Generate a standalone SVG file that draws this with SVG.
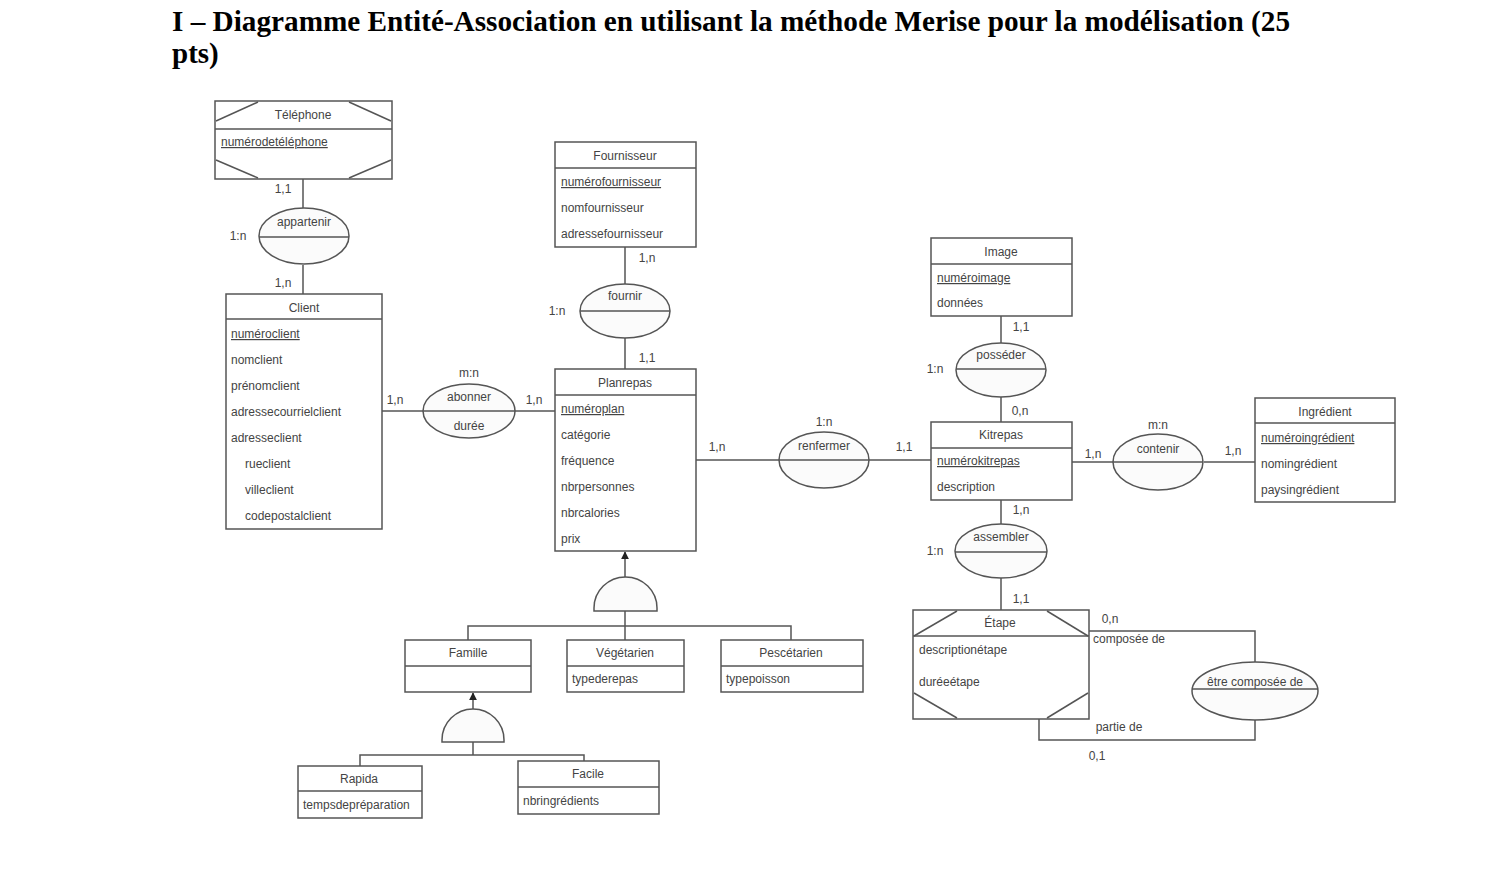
<svg xmlns="http://www.w3.org/2000/svg" width="1486" height="896" viewBox="0 0 1486 896">
<defs>
<style>
.box{fill:#fff;stroke:#555;stroke-width:1.5}
.ln{fill:none;stroke:#555;stroke-width:1.5}
.ell{fill:#fbfbfb;stroke:#555;stroke-width:1.5}
.t{font-family:"Liberation Sans",Arial,sans-serif;font-size:12px;fill:#444}
.c{text-anchor:middle}
.u{text-decoration:underline}
.title{font-family:"Liberation Serif","Times New Roman",serif;font-weight:bold;font-size:29px;fill:#000}
</style>
<marker id="tri" viewBox="0 0 10 10" refX="9" refY="5" markerWidth="8" markerHeight="8" orient="auto" markerUnits="userSpaceOnUse">
<path d="M0,0 L10,5 L0,10 z" fill="#222"/>
</marker>
</defs>
<rect width="1486" height="896" fill="#fff"/>
<text class="title" x="172" y="31" textLength="1118" lengthAdjust="spacingAndGlyphs">I – Diagramme Entité-Association en utilisant la méthode Merise pour la modélisation (25</text>
<text class="title" x="172" y="63">pts)</text>

<g id="connectors">
<line class="ln" x1="303" y1="179" x2="303" y2="208"/>
<line class="ln" x1="303" y1="265" x2="303" y2="294"/>
<line class="ln" x1="382" y1="411" x2="423" y2="411"/>
<line class="ln" x1="515" y1="411" x2="555" y2="411"/>
<line class="ln" x1="625" y1="247" x2="625" y2="284"/>
<line class="ln" x1="625" y1="338" x2="625" y2="369"/>
<line class="ln" x1="696" y1="460" x2="779" y2="460"/>
<line class="ln" x1="869" y1="460" x2="931" y2="460"/>
<line class="ln" x1="1001" y1="316" x2="1001" y2="343"/>
<line class="ln" x1="1001" y1="397" x2="1001" y2="422"/>
<line class="ln" x1="1072" y1="462" x2="1113" y2="462"/>
<line class="ln" x1="1204" y1="462" x2="1255" y2="462"/>
<line class="ln" x1="1001" y1="500" x2="1001" y2="525"/>
<line class="ln" x1="1001" y1="578" x2="1001" y2="610"/>
<polyline class="ln" points="1089,631 1255,631 1255,662"/>
<polyline class="ln" points="1255,720 1255,740 1039,740 1039,719"/>
<line class="ln" x1="625" y1="577" x2="625" y2="552" marker-end="url(#tri)"/>
<line class="ln" x1="625" y1="611" x2="625" y2="640"/>
<polyline class="ln" points="468,640 468,626 791,626 791,640"/>
<line class="ln" x1="473" y1="709" x2="473" y2="693" marker-end="url(#tri)"/>
<line class="ln" x1="473" y1="742" x2="473" y2="755"/>
<polyline class="ln" points="360,766 360,755 584,755 584,761"/>
</g>

<g id="labels" class="t">
<text class="t c" x="283" y="193">1,1</text>
<text class="t c" x="238" y="240">1:n</text>
<text class="t c" x="283" y="287">1,n</text>
<text class="t c" x="469" y="377">m:n</text>
<text class="t c" x="395" y="404">1,n</text>
<text class="t c" x="534" y="404">1,n</text>
<text class="t c" x="647" y="262">1,n</text>
<text class="t c" x="557" y="315">1:n</text>
<text class="t c" x="647" y="362">1,1</text>
<text class="t c" x="824" y="426">1:n</text>
<text class="t c" x="717" y="451">1,n</text>
<text class="t c" x="904" y="451">1,1</text>
<text class="t c" x="1021" y="331">1,1</text>
<text class="t c" x="935" y="373">1:n</text>
<text class="t c" x="1020" y="415">0,n</text>
<text class="t c" x="1158" y="429">m:n</text>
<text class="t c" x="1093" y="458">1,n</text>
<text class="t c" x="1233" y="455">1,n</text>
<text class="t c" x="1021" y="514">1,n</text>
<text class="t c" x="935" y="555">1:n</text>
<text class="t c" x="1021" y="603">1,1</text>
<text class="t c" x="1110" y="623">0,n</text>
<text class="t" x="1093" y="643">composée de</text>
<text class="t c" x="1119" y="731">partie de</text>
<text class="t c" x="1097" y="760">0,1</text>
</g>

<g id="telephone">
<rect class="box" x="215" y="101" width="177" height="78"/>
<line class="ln" x1="215" y1="129" x2="392" y2="129"/>
<polyline class="ln" points="216,121 258,102"/>
<polyline class="ln" points="349,102 391,121"/>
<polyline class="ln" points="216,160 258,178"/>
<polyline class="ln" points="349,178 391,160"/>
<text class="t c" x="303" y="119">Téléphone</text>
<text class="t u" x="221" y="146">numérodetéléphone</text>
</g>

<g id="appartenir">
<ellipse class="ell" cx="304" cy="236" rx="45" ry="28"/>
<line class="ln" x1="259" y1="237" x2="349" y2="237"/>
<text class="t c" x="304" y="226">appartenir</text>
</g>

<g id="client">
<rect class="box" x="226" y="294" width="156" height="235"/>
<line class="ln" x1="226" y1="319" x2="382" y2="319"/>
<text class="t c" x="304" y="312">Client</text>
<text class="t u" x="231" y="338">numéroclient</text>
<text class="t" x="231" y="364">nomclient</text>
<text class="t" x="231" y="390">prénomclient</text>
<text class="t" x="231" y="416">adressecourrielclient</text>
<text class="t" x="231" y="442">adresseclient</text>
<text class="t" x="245" y="468">rueclient</text>
<text class="t" x="245" y="494">villeclient</text>
<text class="t" x="245" y="520">codepostalclient</text>
</g>

<g id="abonner">
<ellipse class="ell" cx="469" cy="411" rx="46" ry="27"/>
<line class="ln" x1="423" y1="411" x2="515" y2="411"/>
<text class="t c" x="469" y="401">abonner</text>
<text class="t c" x="469" y="430">durée</text>
</g>

<g id="fournisseur">
<rect class="box" x="555" y="142" width="141" height="105"/>
<line class="ln" x1="555" y1="168" x2="696" y2="168"/>
<text class="t c" x="625" y="160">Fournisseur</text>
<text class="t u" x="561" y="186">numérofournisseur</text>
<text class="t" x="561" y="212">nomfournisseur</text>
<text class="t" x="561" y="238">adressefournisseur</text>
</g>

<g id="fournir">
<ellipse class="ell" cx="625" cy="311" rx="45" ry="27"/>
<line class="ln" x1="580" y1="311" x2="670" y2="311"/>
<text class="t c" x="625" y="300">fournir</text>
</g>

<g id="planrepas">
<rect class="box" x="555" y="369" width="141" height="182"/>
<line class="ln" x1="555" y1="395" x2="696" y2="395"/>
<text class="t c" x="625" y="387">Planrepas</text>
<text class="t u" x="561" y="413">numéroplan</text>
<text class="t" x="561" y="439">catégorie</text>
<text class="t" x="561" y="465">fréquence</text>
<text class="t" x="561" y="491">nbrpersonnes</text>
<text class="t" x="561" y="517">nbrcalories</text>
<text class="t" x="561" y="543">prix</text>
</g>

<g id="renfermer">
<ellipse class="ell" cx="824" cy="460" rx="45" ry="28"/>
<line class="ln" x1="779" y1="460" x2="869" y2="460"/>
<text class="t c" x="824" y="450">renfermer</text>
</g>

<g id="image">
<rect class="box" x="931" y="238" width="141" height="78"/>
<line class="ln" x1="931" y1="264" x2="1072" y2="264"/>
<text class="t c" x="1001" y="256">Image</text>
<text class="t u" x="937" y="282">numéroimage</text>
<text class="t" x="937" y="307">données</text>
</g>

<g id="posseder">
<ellipse class="ell" cx="1001" cy="370" rx="45" ry="27"/>
<line class="ln" x1="956" y1="369" x2="1046" y2="369"/>
<text class="t c" x="1001" y="359">posséder</text>
</g>

<g id="kitrepas">
<rect class="box" x="931" y="422" width="141" height="78"/>
<line class="ln" x1="931" y1="448" x2="1072" y2="448"/>
<text class="t c" x="1001" y="439">Kitrepas</text>
<text class="t u" x="937" y="465">numérokitrepas</text>
<text class="t" x="937" y="491">description</text>
</g>

<g id="contenir">
<ellipse class="ell" cx="1158" cy="462" rx="45" ry="28"/>
<line class="ln" x1="1113" y1="462" x2="1203" y2="462"/>
<text class="t c" x="1158" y="453">contenir</text>
</g>

<g id="ingredient">
<rect class="box" x="1255" y="398" width="140" height="104"/>
<line class="ln" x1="1255" y1="423" x2="1395" y2="423"/>
<text class="t c" x="1325" y="416">Ingrédient</text>
<text class="t u" x="1261" y="442">numéroingrédient</text>
<text class="t" x="1261" y="468">nomingrédient</text>
<text class="t" x="1261" y="494">paysingrédient</text>
</g>

<g id="assembler">
<ellipse class="ell" cx="1001" cy="551" rx="46" ry="27"/>
<line class="ln" x1="955" y1="552" x2="1047" y2="552"/>
<text class="t c" x="1001" y="541">assembler</text>
</g>

<g id="etape">
<rect class="box" x="913" y="610" width="176" height="109"/>
<line class="ln" x1="913" y1="636" x2="1089" y2="636"/>
<polyline class="ln" points="914,636 957,611"/>
<polyline class="ln" points="1047,611 1088,636"/>
<polyline class="ln" points="914,693 957,718"/>
<polyline class="ln" points="1047,718 1088,693"/>
<text class="t c" x="1000" y="627">Étape</text>
<text class="t" x="919" y="654">descriptionétape</text>
<text class="t" x="919" y="686">duréeétape</text>
</g>

<g id="etre-composee-de">
<ellipse class="ell" cx="1255" cy="691" rx="63" ry="29"/>
<line class="ln" x1="1192" y1="689" x2="1318" y2="689"/>
<text class="t c" x="1255" y="686">être composée de</text>
</g>

<g id="heritage-planrepas">
<path class="ell" d="M594,611 L594,608 A31.5,31 0 0 1 657,608 L657,611 Z"/>
</g>

<g id="famille">
<rect class="box" x="405" y="640" width="126" height="52"/>
<line class="ln" x1="405" y1="666" x2="531" y2="666"/>
<text class="t c" x="468" y="657">Famille</text>
</g>

<g id="vegetarien">
<rect class="box" x="567" y="640" width="117" height="52"/>
<line class="ln" x1="567" y1="666" x2="684" y2="666"/>
<text class="t c" x="625" y="657">Végétarien</text>
<text class="t" x="572" y="683">typederepas</text>
</g>

<g id="pescetarien">
<rect class="box" x="721" y="640" width="142" height="52"/>
<line class="ln" x1="721" y1="666" x2="863" y2="666"/>
<text class="t c" x="791" y="657">Pescétarien</text>
<text class="t" x="726" y="683">typepoisson</text>
</g>

<g id="heritage-famille">
<path class="ell" d="M442,742 L442,740 A31,31 0 0 1 504,740 L504,742 Z"/>
</g>

<g id="rapida">
<rect class="box" x="298" y="766" width="124" height="52"/>
<line class="ln" x1="298" y1="791" x2="422" y2="791"/>
<text class="t c" x="359" y="783">Rapida</text>
<text class="t" x="303" y="809">tempsdepréparation</text>
</g>

<g id="facile">
<rect class="box" x="518" y="761" width="141" height="53"/>
<line class="ln" x1="518" y1="787" x2="659" y2="787"/>
<text class="t c" x="588" y="778">Facile</text>
<text class="t" x="523" y="805">nbringrédients</text>
</g>
</svg>
